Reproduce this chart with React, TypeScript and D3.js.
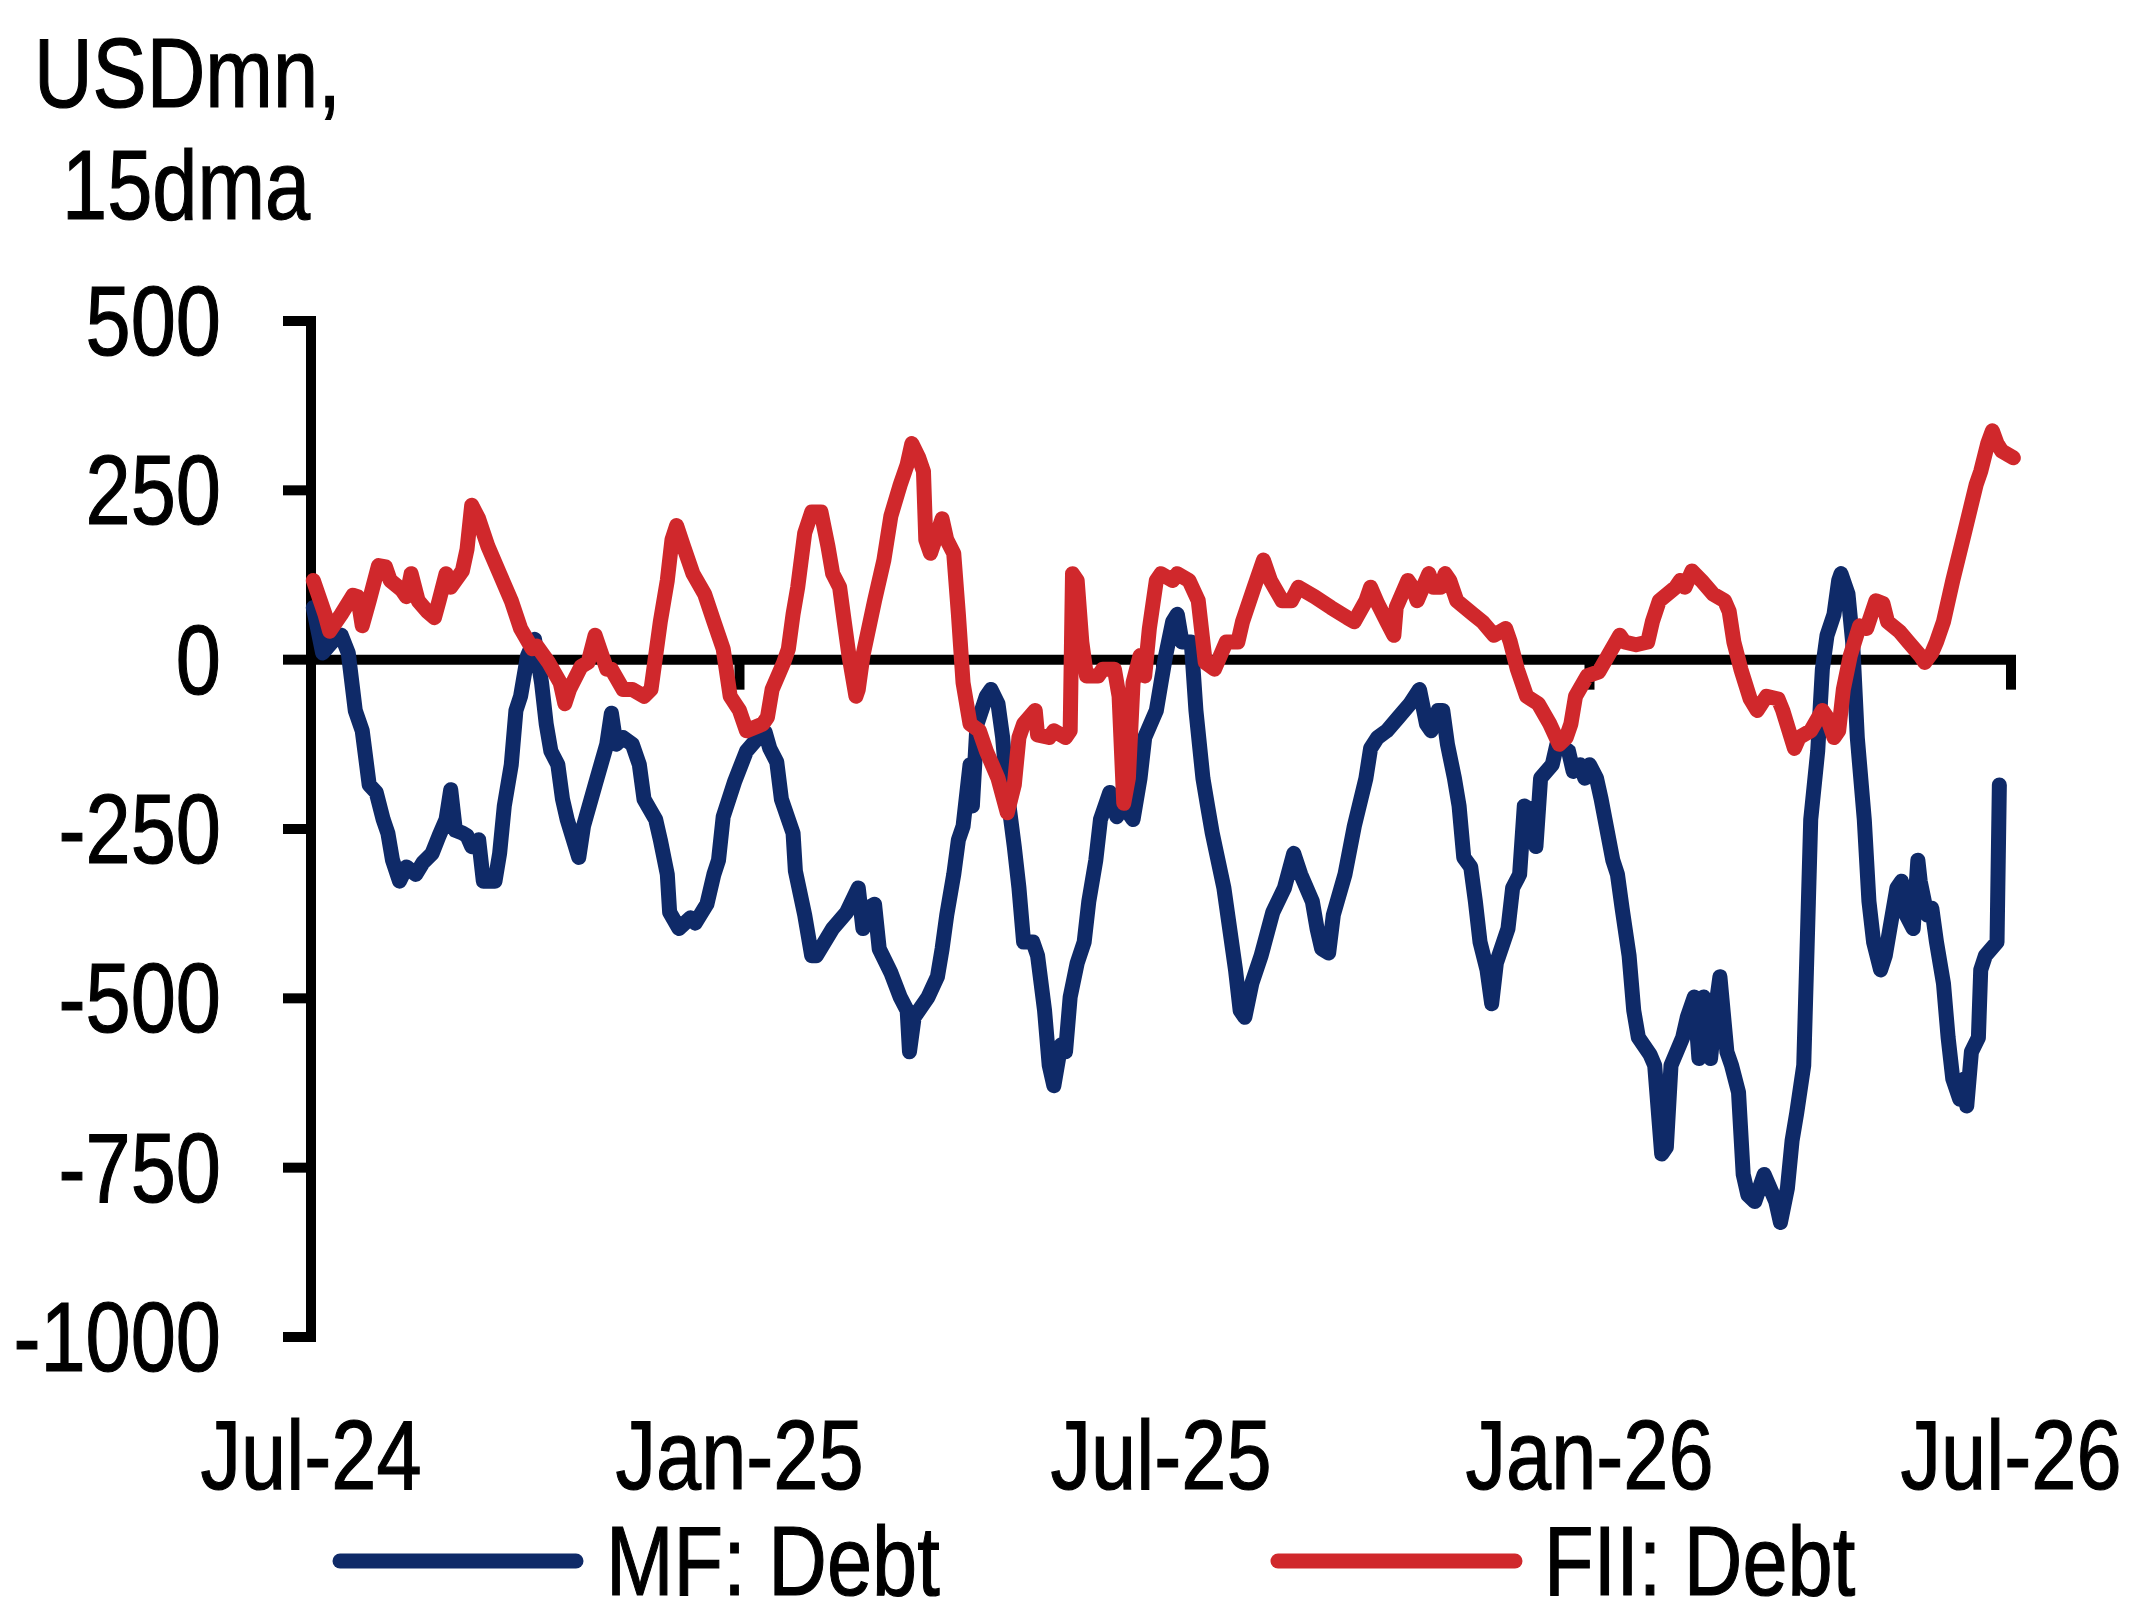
import * as d3 from 'd3';

// days since 1-Jul-24
const mfDays = [1, 5, 9, 13, 16, 19, 22, 25, 28, 31, 33, 35, 38, 41, 45, 48, 52, 55, 58, 60, 62, 65, 67, 69, 72, 74, 79, 81, 83, 86, 88, 90, 93, 96, 99, 101, 103, 106, 108, 110, 115, 117, 122, 127, 129, 131, 134, 138, 141, 143, 148, 150, 153, 154, 158, 163, 165, 170, 173, 175, 177, 182, 187, 192, 195, 197, 200, 202, 207, 208, 212, 215, 217, 224, 230, 235, 237, 239, 242, 244, 249, 253, 256, 257, 259, 265, 269, 271, 273, 276, 278, 280, 283, 284, 286, 290, 292, 295, 297, 299, 302, 304, 306, 310, 312, 315, 317, 319, 322, 324, 326, 329, 332, 334, 337, 339, 343, 346, 349, 353, 356, 358, 363, 365, 367, 370, 372, 374, 378, 380, 383, 385, 387, 392, 397, 399, 401, 404, 408, 413, 418, 422, 425, 430, 432, 434, 437, 439, 444, 448, 453, 455, 458, 462, 467, 472, 476, 479, 481, 484, 486, 488, 491, 493, 495, 498, 500, 502, 505, 507, 509, 514, 516, 519, 521, 523, 526, 528, 533, 535, 540, 542, 545, 547, 549, 552, 554, 559, 561, 563, 566, 568, 570, 575, 577, 580, 582, 584, 589, 591, 594, 596, 598, 601, 603, 605, 608, 610, 613, 615, 617, 620, 624, 629, 631, 634, 636, 638, 641, 642, 643, 644, 647, 649, 651, 654, 656, 657, 660, 662, 664, 667, 669, 671, 674, 676, 678, 681, 683, 685, 688, 690, 691, 694, 696, 698, 701, 703, 705, 708, 710, 711, 713, 716, 717, 719, 724, 725];
const mfValues = [77, 10, 26, 36, 10, -75, -105, -185, -196, -236, -256, -296, -327, -306, -317, -300, -286, -260, -236, -192, -252, -256, -260, -276, -266, -327, -327, -286, -216, -155, -75, -54, 6, 30, -34, -95, -135, -155, -206, -236, -292, -246, -185, -125, -79, -125, -115, -125, -155, -206, -236, -266, -317, -373, -397, -381, -389, -361, -317, -296, -232, -179, -135, -115, -107, -131, -151, -206, -256, -312, -377, -437, -437, -397, -373, -337, -397, -367, -361, -427, -462, -498, -518, -579, -528, -498, -468, -427, -377, -317, -266, -246, -155, -216, -95, -54, -44, -65, -115, -196, -276, -337, -417, -417, -437, -518, -599, -629, -569, -579, -498, -448, -417, -357, -296, -236, -196, -232, -216, -236, -175, -115, -75, -34, 6, 56, 67, 26, 26, -75, -175, -216, -256, -337, -458, -518, -528, -478, -437, -373, -337, -286, -317, -357, -397, -427, -433, -377, -317, -246, -175, -131, -115, -105, -85, -65, -44, -95, -105, -75, -75, -125, -175, -216, -292, -306, -357, -417, -458, -508, -448, -397, -337, -317, -216, -220, -276, -175, -155, -125, -135, -165, -155, -175, -155, -175, -206, -296, -317, -367, -437, -518, -558, -583, -599, -730, -720, -599, -558, -528, -498, -589, -498, -589, -518, -468, -579, -599, -639, -760, -790, -800, -760, -800, -831, -780, -710, -669, -599, -478, -357, -236, -135, -14, 36, 67, 117, 127, 97, 26, -115, -236, -357, -417, -458, -437, -397, -337, -327, -377, -397, -296, -327, -377, -367, -417, -478, -558, -619, -649, -619, -659, -579, -558, -458, -437, -417, -185];

const fiiDays = [1, 6, 8, 13, 18, 20, 22, 25, 29, 32, 34, 39, 41, 43, 46, 50, 53, 55, 58, 60, 65, 67, 69, 72, 76, 81, 86, 90, 95, 97, 102, 107, 109, 111, 116, 119, 122, 124, 127, 129, 134, 138, 143, 146, 148, 150, 153, 155, 157, 160, 164, 169, 173, 177, 180, 184, 187, 194, 196, 198, 203, 205, 207, 209, 212, 215, 219, 222, 224, 227, 229, 231, 234, 235, 237, 242, 246, 249, 253, 256, 258, 261, 263, 264, 266, 271, 273, 276, 278, 280, 283, 287, 290, 295, 299, 302, 304, 306, 311, 312, 317, 319, 324, 326, 327, 329, 331, 333, 338, 340, 345, 347, 349, 351, 353, 356, 358, 360, 363, 365, 370, 372, 377, 381, 384, 388, 393, 398, 400, 405, 409, 412, 417, 421, 424, 431, 438, 445, 448, 453, 455, 458, 462, 465, 466, 471, 473, 475, 480, 482, 485, 487, 489, 492, 499, 503, 508, 513, 515, 518, 522, 527, 532, 536, 539, 541, 543, 548, 553, 557, 562, 564, 569, 574, 576, 579, 586, 588, 590, 593, 597, 602, 607, 609, 611, 614, 618, 621, 625, 630, 632, 637, 639, 644, 649, 651, 654, 656, 658, 661, 665, 668, 672, 675, 677, 682, 686, 691, 693, 696, 698, 701, 705, 710, 715, 717, 720, 722, 724, 726, 731];
const fiiValues = [117, 67, 42, 67, 95, 93, 50, 87, 139, 137, 117, 103, 93, 127, 87, 71, 62, 87, 127, 107, 131, 163, 228, 208, 167, 127, 87, 46, 16, 20, -4, -34, -65, -44, -10, -4, 36, 16, -14, -14, -44, -44, -54, -44, 6, 56, 117, 177, 198, 167, 127, 97, 56, 16, -54, -75, -105, -95, -85, -44, -4, 16, 67, 107, 187, 218, 218, 167, 127, 107, 56, 6, -54, -44, 6, 87, 147, 212, 258, 288, 319, 298, 278, 177, 157, 208, 177, 157, 67, -34, -95, -105, -135, -175, -226, -185, -115, -95, -75, -111, -115, -105, -115, -105, 127, 117, 26, -24, -24, -14, -14, -54, -212, -175, -34, 6, -24, 46, 117, 127, 117, 127, 117, 87, -4, -14, 26, 26, 56, 107, 147, 117, 87, 87, 107, 93, 77, 62, 56, 87, 107, 83, 56, 36, 77, 117, 107, 87, 127, 107, 107, 127, 117, 87, 67, 56, 36, 46, 26, -14, -54, -65, -95, -125, -115, -95, -54, -24, -18, 6, 36, 26, 22, 26, 56, 87, 107, 117, 107, 131, 117, 97, 87, 71, 26, -14, -58, -75, -54, -58, -75, -131, -115, -105, -75, -85, -115, -105, -44, 6, 50, 46, 87, 83, 56, 42, 26, 6, -4, 10, 26, 56, 117, 187, 258, 278, 319, 338, 319, 308, 298];

const yTicks = [500, 250, 0, -250, -500, -750, -1000];
const xTickDates = ['2024-07-01', '2025-01-01', '2025-07-01', '2026-01-01', '2026-07-01'];
const seriesNames = ['MF: Debt', 'FII: Debt'];
const titleLines = ['USDmn,', '15dma'];

const W = 2142;
const H = 1617;
const BLUE = '#0f2a68';
const RED = '#d0282c';
const FONT = '"Liberation Sans", Arial, sans-serif';
const FS = 99;
const NARROW = 0.82;

const start = new Date(2024, 6, 1);
const parse = d3.timeParse('%Y-%m-%d');
const fmt = d3.timeFormat('%b-%y');

const x = d3.scaleTime().domain([start, new Date(2026, 6, 1)]).range([311, 2011]);
const y = d3.scaleLinear().domain([-1000, 500]).range([1337, 321]);

type Pt = { date: Date; value: number };
const toPts = (days: number[], vals: number[]): Pt[] =>
  days.map((d, i) => ({ date: d3.timeDay.offset(start, d), value: vals[i] }));

const mf = toPts(mfDays, mfValues);
const fii = toPts(fiiDays, fiiValues);

const line = d3
  .line<Pt>()
  .x((d) => x(d.date))
  .y((d) => y(d.value))
  .curve(d3.curveLinear);

function Txt({ x0, y0, anchor, children }: { x0: number; y0: number; anchor: string; children: string }) {
  return (
    <text
      transform={`translate(${x0},${y0}) scale(${NARROW},1)`}
      textAnchor={anchor}
      fontFamily={FONT}
      fontSize={FS}
      fill="#000"
      stroke="#000"
      strokeWidth={1.2}
    >
      {children}
    </text>
  );
}

export default function App() {
  const axisX = x(start);
  const zeroY = y(0);
  return (
    <svg
      width={W}
      height={H}
      viewBox={`0 0 ${W} ${H}`}
      style={{ position: 'absolute', left: 0, top: 0, background: '#fff' }}
    >
      <rect width={W} height={H} fill="#fff" />
      <Txt x0={34} y0={107} anchor="start">{titleLines[0]}</Txt>
      <Txt x0={62} y0={219} anchor="start">{titleLines[1]}</Txt>

      {/* y axis */}
      <line x1={axisX} x2={axisX} y1={y(500) - 5} y2={y(-1000) + 5} stroke="#000" strokeWidth={10} />
      {yTicks.map((t) => (
        <g key={t}>
          <line x1={283} x2={axisX} y1={y(t)} y2={y(t)} stroke="#000" strokeWidth={10} />
          <Txt x0={221} y0={y(t) + 34} anchor="end">{String(t)}</Txt>
        </g>
      ))}

      {/* zero line with date ticks */}
      <line x1={axisX} x2={x(parse('2026-07-01')!) + 5} y1={zeroY} y2={zeroY} stroke="#000" strokeWidth={10} />
      {xTickDates.map((s) => {
        const d = parse(s)!;
        return (
          <g key={s}>
            <line x1={x(d)} x2={x(d)} y1={zeroY} y2={zeroY + 30} stroke="#000" strokeWidth={10} />
            <Txt x0={x(d)} y0={1489} anchor="middle">{fmt(d)}</Txt>
          </g>
        );
      })}

      <path d={line(mf) ?? ''} fill="none" stroke={BLUE} strokeWidth={15} strokeLinejoin="round" strokeLinecap="round" />
      <path d={line(fii) ?? ''} fill="none" stroke={RED} strokeWidth={15} strokeLinejoin="round" strokeLinecap="round" />

      {/* legend */}
      <line x1={340} x2={576} y1={1561} y2={1561} stroke={BLUE} strokeWidth={15} strokeLinecap="round" />
      <Txt x0={606} y0={1595} anchor="start">{seriesNames[0]}</Txt>
      <line x1={1278} x2={1515} y1={1561} y2={1561} stroke={RED} strokeWidth={15} strokeLinecap="round" />
      <Txt x0={1544} y0={1595} anchor="start">{seriesNames[1]}</Txt>
    </svg>
  );
}
